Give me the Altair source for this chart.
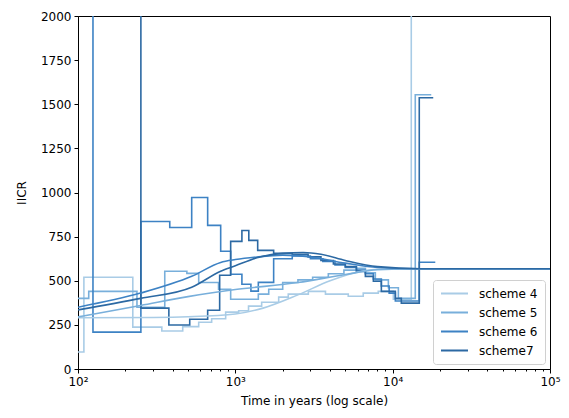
import altair as alt
import pandas as pd

schemes = ["scheme 4", "scheme 5", "scheme 6", "scheme7"]
colors = ["#a9cce6", "#78afdb", "#3d82c4", "#2c69a3"]

x_ticks = [100, 200, 300, 400, 500, 600, 700, 800, 900,
           1000, 2000, 3000, 4000, 5000, 6000, 7000, 8000, 9000,
           10000, 20000, 30000, 40000, 50000, 60000, 70000, 80000, 90000, 100000]
x_major = [100, 1000, 10000, 100000]
x_major_labels = ["10²", "10³", "10⁴", "10⁵"]
y_ticks = [0, 250, 500, 750, 1000, 1250, 1500, 1750, 2000]

# step IICR estimates: segment edges (years) and values
s4_t = [100, 109, 223, 341, 463, 585, 707, 868, 1050, 1213, 1470, 1886, 2170, 2910,
        3740, 5220, 6500, 8100, 10100, 13130, 18000]
s4_v = [96, 520, 237, 215, 240, 265, 285, 322, 330, 356, 378, 407, 424, 440,
        424, 412, 430, 440, 395, 5000]

s5_t = [100, 117, 237, 356, 492, 585, 782, 934, 1400, 1630, 2000, 2500, 3100, 3900,
        4900, 5900, 6710, 7760, 9390, 10870, 13920, 17590]
s5_v = [400, 440, 350, 554, 542, 490, 452, 395, 424, 452, 490, 505, 520, 540,
        560, 570, 545, 505, 460, 400, 1554]

s6_t = [100, 124.5, 251, 383, 528, 667, 807, 934, 1101, 1256, 1400, 1752, 2300, 3000,
        3600, 4300, 5000, 5883, 6708, 7541, 8474, 9500, 10400, 14760, 18660]
s6_v = [5000, 209, 836, 802, 972, 814, 667, 537, 480, 441, 491, 625, 640, 625,
        610, 590, 575, 560, 540, 510, 470, 430, 385, 605]

s7_t = [100, 251, 378, 513, 667, 795, 934, 1101, 1218, 1387, 1752, 2300, 2900, 3500,
        4200, 5000, 5883, 6708, 7541, 8474, 10400, 11350, 14760, 18110]
s7_v = [5000, 345, 249, 282, 333, 531, 723, 785, 729, 672, 655, 650, 635, 615,
        595, 580, 553, 525, 497, 440, 400, 373, 1537]

# theoretical IICR curves
c4_t = [100, 300, 500, 1000, 1500, 2500, 4000, 6000, 8000, 12000, 30000, 100000]
c4_v = [290, 292, 296, 312, 345, 420, 500, 550, 565, 568, 568, 568]

c5_t = [100, 250, 500, 1000, 2500, 5000, 8000, 15000, 30000, 100000]
c5_v = [295, 360, 410, 450, 490, 535, 562, 568, 568, 568]

c6_t = [100, 250, 528, 807, 1000, 1370, 2000, 3000, 5000, 8000, 15000, 30000, 100000]
c6_v = [350, 430, 525, 604, 620, 635, 645, 635, 600, 575, 568, 568, 568]

c7_t = [100, 250, 528, 807, 1000, 1370, 2000, 2700, 3500, 5000, 8000, 15000, 30000, 100000]
c7_v = [335, 400, 463, 554, 585, 630, 655, 660, 650, 615, 580, 568, 568, 568]

steps = {"scheme 4": (s4_t, s4_v), "scheme 5": (s5_t, s5_v),
         "scheme 6": (s6_t, s6_v), "scheme7": (s7_t, s7_v)}
curves = {"scheme 4": (c4_t, c4_v), "scheme 5": (c5_t, c5_v),
          "scheme 6": (c6_t, c6_v), "scheme7": (c7_t, c7_v)}

rows = []
for name, (ts, vs) in steps.items():
    for i, v in enumerate(vs):
        rows.append({"t": ts[i], "v": v, "scheme": name, "kind": "step"})
    rows.append({"t": ts[-1], "v": vs[-1], "scheme": name, "kind": "step"})
for name, (ts, vs) in curves.items():
    for t, v in zip(ts, vs):
        rows.append({"t": t, "v": v, "scheme": name, "kind": "curve"})
df = pd.DataFrame(rows)

label_expr = " : ".join(
    f"datum.value == {v} ? '{l}'" for v, l in zip(x_major, x_major_labels)) + " : ''"
major_test = "indexof([" + ",".join(str(v) for v in x_major) + "], datum.value) >= 0"

x = alt.X("t:Q",
          scale=alt.Scale(type="log", domain=[100, 100000], nice=False),
          axis=alt.Axis(values=x_ticks, labelExpr=label_expr, labelOverlap=False,
                        labelFlush=False, title="Time in years (log scale)",
                        tickSize={"condition": {"test": major_test, "value": 4}, "value": 2},
                        labelPadding=3, titlePadding=8))
y = alt.Y("v:Q", scale=alt.Scale(domain=[0, 2000], nice=False),
          axis=alt.Axis(values=y_ticks, format="d", title="IICR", tickSize=4,
                        labelPadding=3, titlePadding=12))
color = alt.Color("scheme:N", scale=alt.Scale(domain=schemes, range=colors),
                  legend=alt.Legend(title=None, orient="none", legendX=355, legendY=264,
                                    symbolType="stroke", symbolSize=729,
                                    symbolStrokeWidth=2, labelFontSize=12,
                                    labelFont="DejaVu Sans", labelOffset=10,
                                    clipHeight=13, rowPadding=6,
                                    fillColor="white", strokeColor="#d0d0d0",
                                    cornerRadius=3, padding=7))

base = alt.Chart(df)
step_layer = base.transform_filter(alt.datum.kind == "step").mark_line(
    interpolate="step-after", clip=True, strokeWidth=1.6).encode(
    x=x, y=y, color=color, detail="scheme:N")
curve_layer = base.transform_filter(alt.datum.kind == "curve").mark_line(
    interpolate="monotone", clip=True, strokeWidth=1.6).encode(
    x=x, y=y, color=color, detail="scheme:N")

chart = alt.layer(step_layer, curve_layer).properties(
    width=472, height=353,
    autosize=alt.AutoSizeParams(type="none"),
    padding={"left": 70, "top": 8, "right": 11, "bottom": 41},
).configure_view(stroke="black", strokeWidth=1).configure_axis(
    grid=False, domainColor="black", tickColor="black", labelColor="black",
    titleColor="black", labelFont="DejaVu Sans", titleFont="DejaVu Sans",
    labelFontSize=12, titleFontSize=12, titleFontWeight="normal",
    domainWidth=1, tickWidth=1)

chart.save("out.html", embed_options={"renderer": "svg", "actions": False})
